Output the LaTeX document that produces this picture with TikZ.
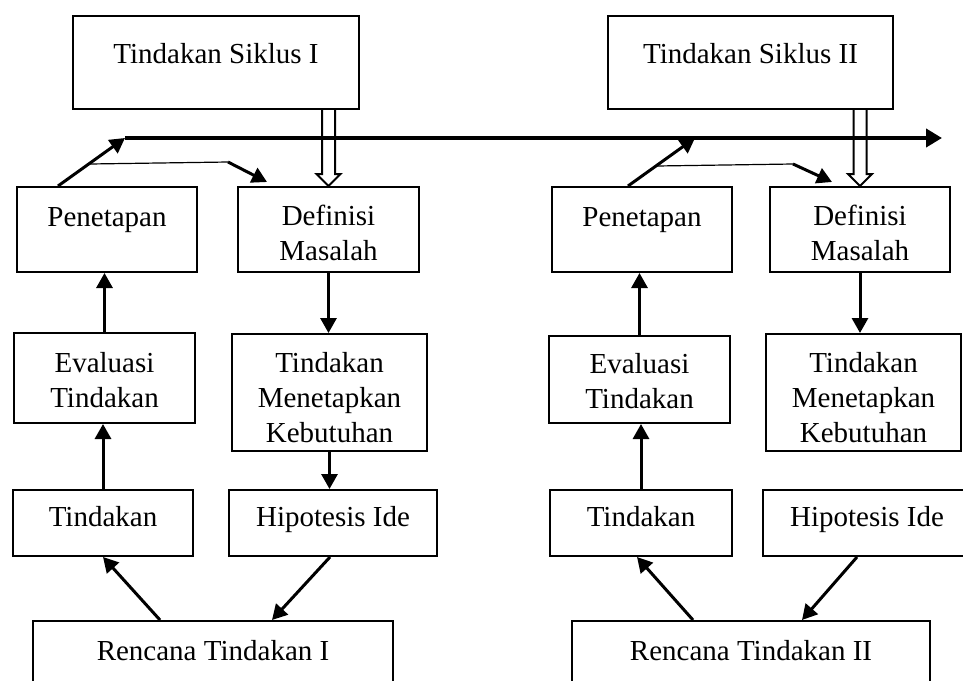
\documentclass[tikz,border=0pt]{standalone}
\usepackage{fontspec}
\setmainfont{Liberation Serif}
\usetikzlibrary{arrows.meta,calc}
\tikzstyle{kotak} = [draw=black, line width=2pt, rectangle, align=center,
    inner sep=0pt, font=\fontsize{29}{35}\selectfont]
\tikzstyle{panah} = [line width=3pt, -{Triangle[length=15pt,width=16pt]}]
\tikzstyle{garis} = [line width=4pt, -{Triangle[length=16pt,width=18pt]}]
\tikzstyle{tipis} = [line width=1.2pt]
\tikzstyle{rongga} = [line width=2pt, line join=miter]

\begin{document}
\begin{tikzpicture}[x=1pt, y=-1pt]
\useasboundingbox (0,0) rectangle (963,680);
\clip (0,0) rectangle (963,680);

% siklus I
\node[kotak, minimum width=286pt, minimum height=93pt, text depth=19pt] (s1) at (216,62.5) {Tindakan Siklus I};
\node[kotak, minimum width=180pt, minimum height=85pt, text depth=24pt] (p1) at (107,229.5) {Penetapan};
\node[kotak, minimum width=181pt, minimum height=85pt, text height=62pt] (d1) at (328.5,229.5) {Definisi\\Masalah};
\node[kotak, minimum width=181pt, minimum height=90pt, text height=59pt] (e1) at (104.5,378) {Evaluasi\\Tindakan};
\node[kotak, minimum width=195pt, minimum height=117pt, text height=100pt] (m1) at (329.5,392.5) {Tindakan\\Menetapkan\\Kebutuhan};
\node[kotak, minimum width=180pt, minimum height=66pt, text depth=14pt] (t1) at (103,523) {Tindakan};
\node[kotak, minimum width=208pt, minimum height=66pt, text depth=14pt] (h1) at (333,523) {Hipotesis Ide};
\node[kotak, minimum width=360pt, minimum height=100pt, text depth=42pt] (r1) at (213,671) {Rencana Tindakan I};

% siklus II
\node[kotak, minimum width=285pt, minimum height=93pt, text depth=19pt] (s2) at (750.5,62.5) {Tindakan Siklus II};
\node[kotak, minimum width=180pt, minimum height=85pt, text depth=24pt] (p2) at (642,229.5) {Penetapan};
\node[kotak, minimum width=180pt, minimum height=85pt, text height=62pt] (d2) at (860,229.5) {Definisi\\Masalah};
\node[kotak, minimum width=181pt, minimum height=87pt, text height=59pt] (e2) at (639.5,379.5) {Evaluasi\\Tindakan};
\node[kotak, minimum width=195pt, minimum height=117pt, text height=100pt] (m2) at (863.5,392.5) {Tindakan\\Menetapkan\\Kebutuhan};
\node[kotak, minimum width=182pt, minimum height=66pt, text depth=14pt] (t2) at (641,523) {Tindakan};
\node[kotak, minimum width=208pt, minimum height=66pt, text depth=14pt] (h2) at (867,523) {Hipotesis Ide};
\node[kotak, minimum width=358pt, minimum height=100pt, text depth=42pt] (r2) at (751,671) {Rencana Tindakan II};

\coordinate (g1) at (125,138);
\coordinate (g2) at (942,138);
\coordinate (g3) at (695,138);
\coordinate (c1) at (90,164);
\coordinate (c2) at (228,162);
\coordinate (c3) at (657,166);
\coordinate (c4) at (793,164);

% panah rongga
\draw[rongga] ($(s1.south -| d1.north)+(-6.5,0)$) -- ($(d1.north)+(-6.5,-12)$) -- ($(d1.north)+(-12,-12)$)
    -- (d1.north) -- ($(d1.north)+(12,-12)$) -- ($(d1.north)+(6.5,-12)$) -- ($(s1.south -| d1.north)+(6.5,0)$);
\draw[rongga] ($(s2.south -| d2.north)+(-6.5,0)$) -- ($(d2.north)+(-6.5,-12)$) -- ($(d2.north)+(-12,-12)$)
    -- (d2.north) -- ($(d2.north)+(12,-12)$) -- ($(d2.north)+(6.5,-12)$) -- ($(s2.south -| d2.north)+(6.5,0)$);

\draw[garis] (g1) -- (g2);

% kiri
\draw[panah] ([xshift=-49pt]p1.north) -- (g1);
\draw[tipis] (c1) -- (c2);
\draw[panah] (c2) -- ([shift={(30,-4)}]d1.north west);
\draw[panah] (d1.south) -- (d1.south |- m1.north);
\draw[panah] (m1.south) -- (m1.south |- h1.north);
\draw[panah] ([xshift=-3pt]h1.south) -- ([xshift=59pt]r1.north);
\draw[panah] ([xshift=-53pt]r1.north) -- (t1.south);
\draw[panah] (t1.north) -- (t1.north |- e1.south);
\draw[panah] (e1.north) -- (e1.north |- p1.south);

% kanan
\draw[panah] ([xshift=-14pt]p2.north) -- (g3);
\draw[tipis] (c3) -- (c4);
\draw[panah] (c4) -- ([shift={(63,-4)}]d2.north west);
\draw[panah] (d2.south) -- (d2.south |- m2.north);
\draw[panah] ([xshift=-10pt]h2.south) -- ([xshift=51pt]r2.north);
\draw[panah] ([xshift=-58pt]r2.north) -- ([xshift=-4pt]t2.south);
\draw[panah] (t2.north) -- (t2.north |- e2.south);
\draw[panah] (e2.north) -- (e2.north |- p2.south);
\end{tikzpicture}
\end{document}
